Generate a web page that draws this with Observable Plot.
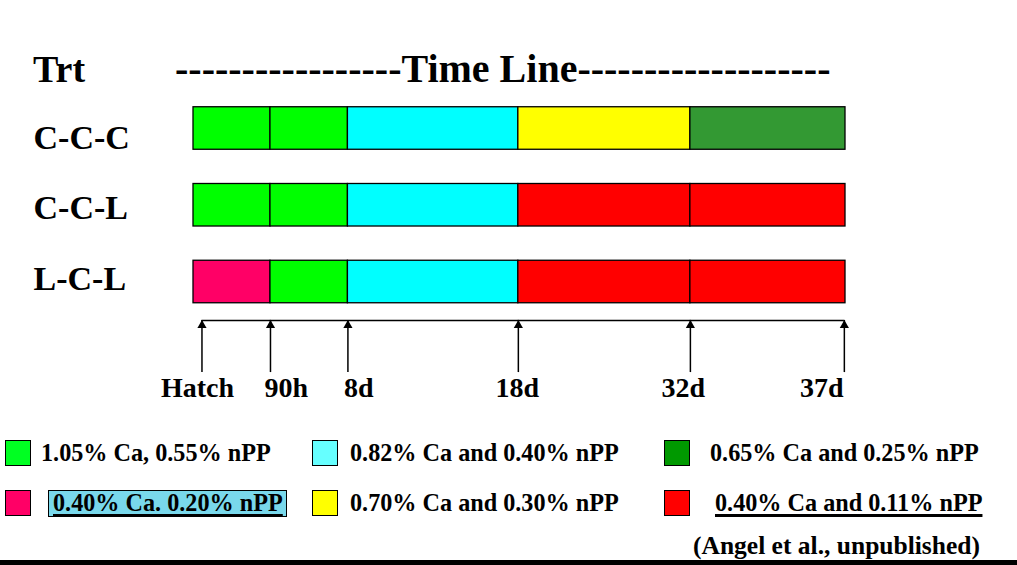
<!DOCTYPE html>
<html><head><meta charset="utf-8">
<script src="https://cdn.jsdelivr.net/npm/d3@7"></script>
<script src="https://cdn.jsdelivr.net/npm/@observablehq/plot@0.6"></script>
<style>
body{margin:0;background:#fff;}
#wrap{position:relative;width:1017px;height:565px;overflow:hidden;background:#fff;font-family:"Liberation Serif","Times New Roman",serif;font-weight:bold;color:#000;}
#wrap svg{position:absolute;left:0;top:0;}
.abs{position:absolute;white-space:nowrap;line-height:1;}
.sw{position:absolute;box-sizing:border-box;border:1.5px solid #000;}
</style></head><body><div id="wrap"></div>
<script>
// ---- data ----
const treatments = ["C-C-C", "C-C-L", "L-C-L"];
const milestones = ["Hatch", "90h", "8d", "18d", "32d", "37d"];
// position along the (not-to-scale) time line, as drawn
const milestonePos = [0, 1, 2.006, 4.22, 6.455, 8.47];
const arrowPos = [0.11, 1, 2.006, 4.22, 6.455, 8.455];
const labelAnchor = ["middle", "start", "start", "middle", "middle", "end"];
const dietLabels = [
  "1.05% Ca, 0.55% nPP",
  "0.82% Ca and 0.40% nPP",
  "0.65% Ca and 0.25% nPP",
  "0.40% Ca. 0.20% nPP",
  "0.70% Ca and 0.30% nPP",
  "0.40% Ca and 0.11% nPP"
];
const dietBarColors = ["#00ff00", "#00ffff", "#339933", "#ff0066", "#ffff00", "#ff0000"];
const dietSwatchColors = ["#00ff22", "#66ffff", "#009900", "#ff0066", "#ffff00", "#ff0000"];
// diet index for each period of each treatment
const planCCC = [0, 0, 1, 4, 2];
const planCCL = [0, 0, 1, 5, 5];
const planLCL = [3, 0, 1, 5, 5];
const titleText = "-----------------Time Line-------------------";
const headerText = "Trt";
const captionText = "(Angel et al., unpublished)";

// ---- build tables ----
const plans = [planCCC, planCCL, planLCL];
const segments = plans.flatMap((p, i) => p.map((d, k) => ({
  trt: treatments[i], row: i, start: milestonePos[k], end: milestonePos[k + 1], diet: dietLabels[d]
})));
const ticks = milestones.map((m, i) => ({label: m, pos: milestonePos[i], arrow: arrowPos[i], anchor: labelAnchor[i]}));

const axisFont = {fontFamily: "Liberation Serif, Times New Roman, serif", fontWeight: "bold", fill: "#000"};
const labelNudge = [4, -6, -4, -1, -7, -2];

const chart = Plot.plot({
  width: 1017, height: 565, margin: 0,
  style: {background: "transparent", overflow: "visible"},
  x: {domain: [0, 8.47], range: [193, 845], axis: null},
  y: {domain: [0, 3.5], range: [128, 128 + 3.5 * 76.75], axis: null},
  color: {domain: dietLabels, range: dietBarColors},
  marks: [
    Plot.rect(segments, {x1: "start", x2: "end", y1: d => d.row - 0.277, y2: d => d.row + 0.277,
      fill: "diet", stroke: "#000", strokeWidth: 1.3}),
    Plot.ruleY([2.5], {x1: arrowPos[0], x2: arrowPos[arrowPos.length - 1], stroke: "#000", strokeWidth: 1.5}),
    Plot.ruleX(ticks, {x: "arrow", y1: 2.5, y2: 3.18, stroke: "#000", strokeWidth: 1.5}),
    Plot.dot(ticks, {x: "arrow", y: 2.5, symbol: "triangle", r: 3.4, fill: "#000", stroke: "none", dy: 5}),
    ...ticks.map((t, i) => Plot.text([t], {
      x: "pos", y: () => 3.18, text: "label", textAnchor: t.anchor, dx: labelNudge[i], dy: 15.4,
      fontSize: 28, ...axisFont
    })),
    ...treatments.map((t, i) => Plot.text([t], {
      frameAnchor: "left", y: () => i, text: d => d, textAnchor: "start",
      dx: 33, dy: 9.44 - 6.25 * i, fontSize: 34, ...axisFont
    }))
  ]
});

const wrap = document.getElementById("wrap");
wrap.appendChild(chart);

function addText(txt, left, baseline, size, extra) {
  const el = document.createElement("div");
  el.className = "abs";
  el.textContent = txt;
  el.style.left = left + "px";
  el.style.top = (baseline - 0.8375 * size) + "px";
  el.style.fontSize = size + "px";
  if (extra) Object.assign(el.style, extra);
  wrap.appendChild(el);
  return el;
}
addText(headerText, 33, 82, 38);
addText(titleText, 175, 82, 40);

// legend (2 rows x 3 columns)
const legendCols = [5, 312, 664];
const legendTextLeft = [41, 350, 710];
const legendRowTop = [440, 490];
const legendBase = [461, 511];
const legendFont = 24.2;
dietLabels.forEach((lab, i) => {
  const r = Math.floor(i / 3), c = i % 3;
  const sw = document.createElement("div");
  sw.className = "sw";
  sw.style.left = legendCols[c] + "px";
  sw.style.top = legendRowTop[r] + "px";
  sw.style.width = "26px"; sw.style.height = "26px";
  sw.style.background = dietSwatchColors[i];
  wrap.appendChild(sw);
  if (r === 1 && c === 0) {
    const box = document.createElement("div");
    box.style.cssText = "position:absolute;left:48px;top:490px;width:239px;height:27px;box-sizing:border-box;background:#79d8eb;border:1.3px solid #000;";
    wrap.appendChild(box);
    addText(lab, 53, legendBase[r], legendFont, {textDecoration: "underline", textDecorationThickness: "2px", textUnderlineOffset: "3px"});
  } else if (r === 1 && c === 2) {
    addText(lab, 715, legendBase[r], legendFont, {textDecoration: "underline", textDecorationThickness: "2.5px", textUnderlineOffset: "3px"});
  } else {
    addText(lab, legendTextLeft[c], legendBase[r], legendFont);
  }
});
addText(captionText, 693, 554, 25.5);
const bar = document.createElement("div");
bar.style.cssText = "position:absolute;left:0;top:560px;width:1017px;height:5px;background:#000;";
wrap.appendChild(bar);
</script></body></html>
